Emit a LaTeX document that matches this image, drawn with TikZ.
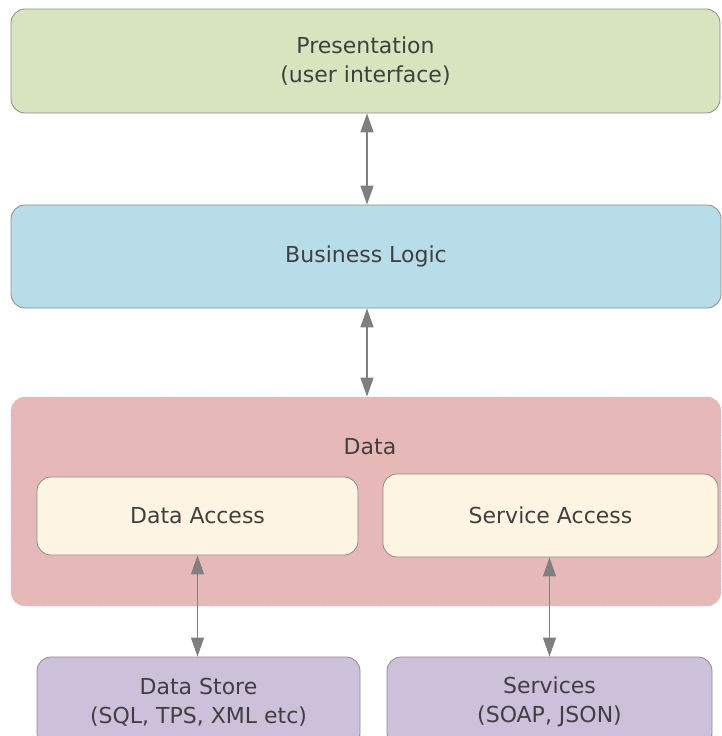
\documentclass[tikz,border=0pt]{standalone}
\usepackage{fontspec}
\setmainfont{DejaVu Sans}
\usetikzlibrary{positioning, arrows.meta}

\definecolor{presgreen}{HTML}{D7E4BD}
\definecolor{logicblue}{HTML}{B7DDE8}
\definecolor{datared}{HTML}{E6B9B8}
\definecolor{accesscream}{HTML}{FDF5E2}
\definecolor{storepurple}{HTML}{CCC0DA}
\definecolor{edgegray}{HTML}{8C8C8C}
\definecolor{arrowgray}{HTML}{7F7F7F}
\definecolor{textgray}{HTML}{404040}

\begin{document}
\begin{tikzpicture}[x=1pt, y=-1pt,
	layer/.style={rectangle, rounded corners=14pt, draw=edgegray, line width=0.8pt,
		text=textgray, font=\fontsize{22}{29}\selectfont, align=center, inner sep=0pt},
	link/.style={draw=arrowgray, line width=1.6pt, {Triangle[length=19pt, width=13pt]}-{Triangle[length=19pt, width=13pt]}},
	thinlink/.style={link, line width=1pt}
	]
	\useasboundingbox (0,0) rectangle (721,736);

	\node[layer, fill=presgreen, minimum width=709pt, minimum height=104pt] (pres) at (365.5,61) {Presentation\\(user interface)};
	\node[layer, fill=logicblue, minimum width=710pt, minimum height=103pt] (logic) at (366,256.5) {Business Logic};

	\node[layer, fill=datared, draw=edgegray!50, dotted, minimum width=710pt, minimum height=209pt] (data) at (366,501.5) {};
	\node[text=textgray, font=\fontsize{22}{29}\selectfont] (datalbl) at (370,447) {Data};

	\node[layer, fill=accesscream, minimum width=321pt, minimum height=78pt] (dacc) at (197.5,516) {Data Access};
	\node[layer, fill=accesscream, minimum width=335pt, minimum height=83pt] (sacc) at (550.5,515.5) {Service Access};

	\node[layer, fill=storepurple, minimum width=323pt, minimum height=90pt] (store) at (198.5,702) {Data Store\\(SQL, TPS, XML etc)};
	\node[layer, fill=storepurple, minimum width=325pt, minimum height=90pt] (serv) at (549.5,702) {Services\\(SOAP, JSON)};

	\draw[link] (pres.south -| 367,0) -- (logic.north -| 367,0);
	\draw[link] (logic.south -| 367,0) -- (data.north -| 367,0);
	\draw[thinlink] (dacc.south) -- (dacc.south |- store.north);
	\draw[thinlink] (sacc.south -| serv.north) -- (serv.north);
\end{tikzpicture}
\end{document}
